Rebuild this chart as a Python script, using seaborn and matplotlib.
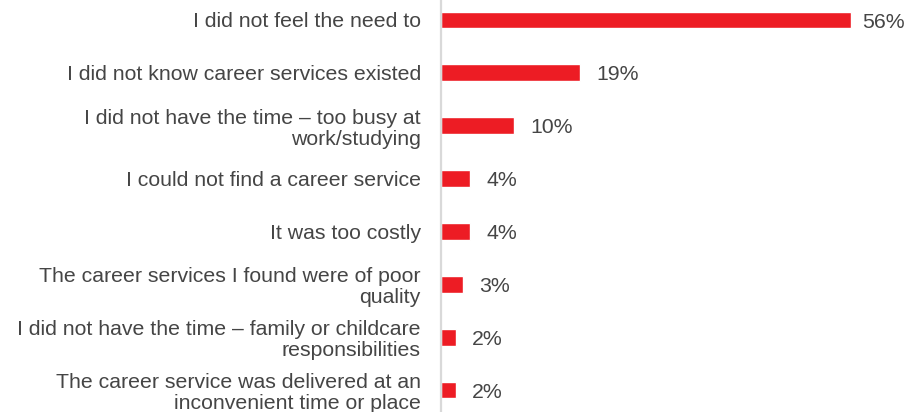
import matplotlib
matplotlib.use("Agg")
import matplotlib.pyplot as plt
import seaborn as sns
import pandas as pd

reasons = [
    "I did not feel the need to",
    "I did not know career services existed",
    "I did not have the time \u2013 too busy at\nwork/studying",
    "I could not find a career service",
    "It was too costly",
    "The career services I found were of poor\nquality",
    "I did not have the time \u2013 family or childcare\nresponsibilities",
    "The career service was delivered at an\ninconvenient time or place",
]
shares = [56, 19, 10, 4, 4, 3, 2, 2]
value_labels = ["56%", "19%", "10%", "4%", "4%", "3%", "2%", "2%"]

BAR_RED = "#ED1C24"
TEXT_GREY = "#454545"
AXIS_GREY = "#D9D9D9"

sns.set_theme(style="white")
plt.rcParams["font.family"] = ["Liberation Sans", "DejaVu Sans"]

df = pd.DataFrame({"reason": reasons, "share": shares})

fig = plt.figure(figsize=(9.10, 4.12), dpi=100)
ax = fig.add_axes([441 / 910, 0.0, 1 - 441 / 910, 1.0])

sns.barplot(data=df, y="reason", x="share", orient="h", color=BAR_RED,
            saturation=1, width=0.32, ax=ax)

ax.set_xlim(0, 64)
ax.set_ylim(7.416, -0.378)
ax.set_xlabel("")
ax.set_ylabel("")
ax.set_xticks([])

ax.tick_params(axis="y", length=0, pad=14.5, labelsize=15.3, labelcolor=TEXT_GREY)
for lbl in ax.get_yticklabels():
    lbl.set_linespacing(1.12)

for s in ("top", "right", "bottom"):
    ax.spines[s].set_visible(False)
ax.spines["left"].set_color(AXIS_GREY)
ax.spines["left"].set_linewidth(1.6)

# value labels just past each bar end; the longest bar gets a tighter gap
longest = max(shares)
for i, (v, t) in enumerate(zip(shares, value_labels)):
    dx = 7.5 if v == longest else 11.5
    ax.annotate(t, xy=(v, i), xytext=(dx, -1.5), textcoords="offset points",
                ha="left", va="center", fontsize=15.3, color=TEXT_GREY)

fig.savefig("out.png", dpi=100)
